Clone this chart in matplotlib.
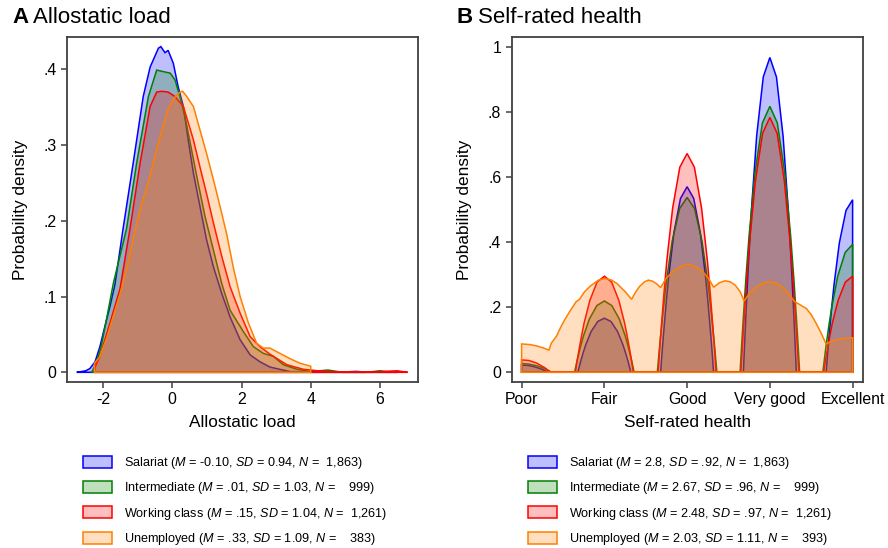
import matplotlib
matplotlib.use("Agg")
import matplotlib.pyplot as plt

plt.rcParams['font.family'] = ['Liberation Sans', 'DejaVu Sans']
plt.rcParams['mathtext.fontset'] = 'custom'
plt.rcParams['mathtext.rm'] = 'Liberation Sans'
plt.rcParams['mathtext.it'] = 'Liberation Sans:italic'
plt.rcParams['axes.unicode_minus'] = False

# ---- Panel A: allostatic load densities ----
al_x_sal = [-2.76, -2.50, -2.38, -2.23, -2.09, -1.95, -1.80, -1.66, -1.42, -1.13, -0.84, -0.64, -0.40,
            -0.33, -0.21, -0.12, 0.03, 0.17, 0.32, 0.46, 0.61, 0.80, 0.99, 1.19, 1.43, 1.67, 1.96,
            2.25, 2.53, 2.82, 3.10, 3.40, 4.00, 5.00, 5.30, 5.60, 6.50]
al_y_sal = [0, .002, .005, .014, .034, .060, .087, .115, .190, .276, .364, .403, .428,
            .430, .422, .425, .408, .377, .351, .307, .263, .219, .175, .139, .104, .073, .043,
            .023, .014, .007, .004, .001, .0005, .0005, .0012, .0003, 0]

al_x_int = [-2.33, -2.20, -2.05, -1.90, -1.70, -1.32, -1.03, -0.69, -0.45, -0.26, -0.06, 0.08, 0.22,
            0.37, 0.56, 0.75, 0.95, 1.19, 1.43, 1.67, 2.05, 2.34, 2.63, 2.92, 3.21, 3.60, 4.00,
            4.50, 4.90, 5.60, 6.00, 6.30]
al_y_int = [0, .012, .035, .070, .118, .190, .276, .364, .399, .397, .395, .386, .364,
            .337, .293, .249, .205, .161, .117, .082, .054, .034, .025, .021, .010, .004, .001,
            .003, 0, 0, .002, 0]

al_x_wc = [-2.26, -2.23, -2.09, -1.80, -1.51, -1.22, -0.93, -0.64, -0.45, -0.30, -0.12, 0.08, 0.32,
           0.61, 0.80, 0.99, 1.19, 1.43, 1.67, 1.96, 2.25, 2.53, 2.82, 3.31, 3.79, 4.20, 4.60,
           5.50, 6.50, 6.80]
al_y_wc = [0, .007, .021, .065, .110, .190, .276, .351, .370, .371, .370, .364, .351,
           .307, .271, .236, .197, .153, .113, .078, .047, .034, .024, .010, .004, .002, .001,
           0, .002, 0]

al_x_une = [-2.25, -2.25, -2.10, -1.90, -1.70, -1.50, -1.30, -1.10, -0.90, -0.64, -0.45, -0.26, -0.10,
            0.05, 0.22, 0.30, 0.42, 0.61, 0.80, 0.99, 1.19, 1.38, 1.57, 1.76, 1.96, 2.20, 2.44,
            2.63, 2.82, 3.11, 3.40, 3.69, 4.00, 4.00]
al_y_une = [0, .012, .020, .045, .075, .105, .140, .183, .220, .260, .295, .326, .350,
            .362, .370, .371, .364, .351, .320, .289, .254, .219, .183, .139, .100, .065, .038,
            .032, .032, .025, .018, .012, .008, 0]

al_labels = [r'Salariat ($M$ = -0.10, $SD$ = 0.94, $N$ =  1,863)',
             r'Intermediate ($M$ = .01, $SD$ = 1.03, $N$ =    999)',
             r'Working class ($M$ = .15, $SD$ = 1.04, $N$ =  1,261)',
             r'Unemployed ($M$ = .33, $SD$ = 1.09, $N$ =    383)']

# ---- Panel B: self-rated health densities (1 = Poor ... 5 = Excellent) ----
srh_x_sal = [1.000, 1.000, 1.080, 1.160, 1.224, 1.256, 1.288, 1.304, 1.320,
             1.680, 1.696, 1.712, 1.744, 1.776, 1.840, 1.920, 2.000, 2.080, 2.160, 2.224, 2.256, 2.288, 2.304, 2.320,
             2.680, 2.696, 2.712, 2.744, 2.776, 2.840, 2.920, 3.000, 3.080, 3.160, 3.224, 3.256, 3.288, 3.304, 3.320,
             3.680, 3.696, 3.712, 3.744, 3.776, 3.840, 3.920, 4.000, 4.080, 4.160, 4.224, 4.256, 4.288, 4.304, 4.320,
             4.680, 4.696, 4.712, 4.744, 4.776, 4.840, 4.920, 5.000, 5.000]
srh_y_sal = [0, .022, .021, .0165, .011, .008, .004, .002, 0,
             0, .016, .032, .060, .085, .125, .156, .166, .156, .125, .085, .060, .032, .016, 0,
             0, .056, .108, .205, .291, .428, .534, .570, .534, .428, .291, .205, .108, .056, 0,
             0, .094, .184, .348, .493, .725, .907, .967, .907, .725, .493, .348, .184, .094, 0,
             0, .052, .101, .191, .270, .398, .497, .530, 0]

srh_x_int = [1.000, 1.000, 1.090, 1.180, 1.252, 1.288, 1.324, 1.342, 1.360,
             1.640, 1.658, 1.676, 1.712, 1.748, 1.820, 1.910, 2.000, 2.090, 2.180, 2.252, 2.288, 2.324, 2.342, 2.360,
             2.640, 2.658, 2.676, 2.712, 2.748, 2.820, 2.910, 3.000, 3.090, 3.180, 3.252, 3.288, 3.324, 3.342, 3.360,
             3.640, 3.658, 3.676, 3.712, 3.748, 3.820, 3.910, 4.000, 4.090, 4.180, 4.252, 4.288, 4.324, 4.342, 4.360,
             4.640, 4.658, 4.676, 4.712, 4.748, 4.820, 4.910, 5.000, 5.000]
srh_y_int = [0, .027, .025, .020, .014, .010, .005, .003, 0,
             0, .021, .042, .079, .112, .164, .205, .219, .205, .164, .112, .079, .042, .021, 0,
             0, .052, .102, .193, .274, .403, .503, .537, .503, .403, .274, .193, .102, .052, 0,
             0, .080, .155, .294, .417, .613, .766, .817, .766, .613, .417, .294, .155, .080, 0,
             0, .038, .075, .142, .200, .295, .368, .393, 0]

srh_x_wc = [1.000, 1.000, 1.088, 1.175, 1.245, 1.280, 1.315, 1.333, 1.350,
            1.650, 1.667, 1.685, 1.720, 1.755, 1.825, 1.912, 2.000, 2.088, 2.175, 2.245, 2.280, 2.315, 2.333, 2.350,
            2.650, 2.667, 2.685, 2.720, 2.755, 2.825, 2.912, 3.000, 3.088, 3.175, 3.245, 3.280, 3.315, 3.333, 3.350,
            3.650, 3.667, 3.685, 3.720, 3.755, 3.825, 3.912, 4.000, 4.088, 4.175, 4.245, 4.280, 4.315, 4.333, 4.350,
            4.650, 4.667, 4.685, 4.720, 4.755, 4.825, 4.912, 5.000, 5.000]
srh_y_wc = [0, .038, .036, .029, .019, .014, .007, .004, 0,
            0, .029, .056, .106, .151, .221, .277, .295, .277, .221, .151, .106, .056, .029, 0,
            0, .066, .128, .242, .343, .504, .630, .672, .630, .504, .343, .242, .128, .066, 0,
            0, .076, .149, .282, .399, .587, .734, .783, .734, .587, .399, .282, .149, .076, 0,
            0, .029, .056, .106, .151, .221, .277, .295, 0]

srh_x_une = [1.00, 1.00, 1.10, 1.18, 1.26, 1.33, 1.36, 1.42, 1.47, 1.52, 1.59, 1.66,
             1.70, 1.76, 1.83, 1.93, 2.00, 2.08, 2.15, 2.25, 2.33, 2.37, 2.42, 2.48,
             2.53, 2.58, 2.63, 2.68, 2.75, 2.83, 2.92, 3.01, 3.10, 3.19, 3.26, 3.32,
             3.39, 3.46, 3.52, 3.58, 3.64, 3.69, 3.76, 3.84, 3.92, 4.00, 4.08, 4.16,
             4.23, 4.30, 4.44, 4.50, 4.56, 4.62, 4.68, 4.74, 4.81, 4.90, 5.00, 5.00]
srh_y_une = [0, .087, .085, .081, .075, .068, .090, .110, .137, .161, .190, .217,
             .224, .247, .265, .283, .288, .284, .273, .248, .224, .243, .262, .277,
             .283, .280, .272, .260, .290, .309, .325, .332, .325, .309, .288, .261,
             .275, .281, .278, .268, .248, .219, .245, .263, .274, .278, .273, .259,
             .240, .217, .196, .177, .150, .120, .087, .095, .100, .104, .106, 0]

srh_labels = [r'Salariat ($M$ = 2.8, $SD$ = .92, $N$ =  1,863)',
              r'Intermediate ($M$ = 2.67, $SD$ = .96, $N$ =    999)',
              r'Working class ($M$ = 2.48, $SD$ = .97, $N$ =  1,261)',
              r'Unemployed ($M$ = 2.03, $SD$ = 1.11, $N$ =    393)']
srh_ticks = ['Poor', 'Fair', 'Good', 'Very good', 'Excellent']

colors = ['#0000ff', '#008000', '#ff0000', '#ff8000']


def draw_panel(ax, xs, ys, labels):
    # each group: translucent fill with a solid outline, drawn in order
    for x, y, c, lab in zip(xs, ys, colors, labels):
        ax.fill(x, y, facecolor=matplotlib.colors.to_rgba(c, 0.25), edgecolor=c,
                linewidth=1.1, label=lab)
    for s in ax.spines.values():
        s.set_color('#404040')
        s.set_linewidth(1.3)
    ax.tick_params(direction='out', length=4.5, width=1.1, color='#404040', labelsize=11.4, pad=2.5)
    ax.tick_params(axis='y', pad=3)
    ax.set_ylabel('Probability density', fontsize=12.4)
    ax.yaxis.set_label_coords(-0.112, 0.5)
    ax.xaxis.set_label_coords(0.5, -0.095)


fig = plt.figure(figsize=(8.88, 5.48), dpi=100)
axA = fig.add_axes([0.0755, 0.3029, 0.3953, 0.6296])
axB = fig.add_axes([0.5762, 0.3029, 0.3956, 0.6296])

draw_panel(axA, [al_x_sal, al_x_int, al_x_wc, al_x_une],
           [al_y_sal, al_y_int, al_y_wc, al_y_une], al_labels)
axA.set_xlim(-3.04, 7.1)
axA.set_ylim(-0.0128, 0.4427)
axA.set_xticks([-2, 0, 2, 4, 6])
axA.set_yticks([0, .1, .2, .3, .4])
axA.set_yticklabels(['0', '.1', '.2', '.3', '.4'])
axA.set_xlabel('Allostatic load', fontsize=12.4)

draw_panel(axB, [srh_x_sal, srh_x_int, srh_x_wc, srh_x_une],
           [srh_y_sal, srh_y_int, srh_y_wc, srh_y_une], srh_labels)
axB.set_xlim(0.88, 5.125)
axB.set_ylim(-0.03, 1.03)
axB.set_xticks([1, 2, 3, 4, 5])
axB.set_xticklabels(srh_ticks)
axB.set_yticks([0, .2, .4, .6, .8, 1])
axB.set_yticklabels(['0', '.2', '.4', '.6', '.8', '1'])
axB.set_xlabel('Self-rated health', fontsize=12.4)

for ax, lx in [(axA, 83 / 888), (axB, 528 / 888)]:
    ax.legend(loc='upper left', bbox_to_anchor=(lx, 1 - 455 / 548), bbox_transform=fig.transFigure,
              frameon=False, fontsize=9.1, handlelength=2.3, handleheight=1.1, handletextpad=0.95,
              labelspacing=0.74, borderpad=0, borderaxespad=0)

# panel titles
ty = 1 - 23.3 / 548
fig.text(12 / 888, ty, 'A', fontsize=16, fontweight='bold', va='baseline')
fig.text(33.3 / 888, ty, 'Allostatic load', fontsize=16, va='baseline')
fig.text(456.7 / 888, ty, 'B', fontsize=16, fontweight='bold', va='baseline')
fig.text(478.3 / 888, ty, 'Self-rated health', fontsize=16, va='baseline')

fig.savefig('out.png', dpi=100)
